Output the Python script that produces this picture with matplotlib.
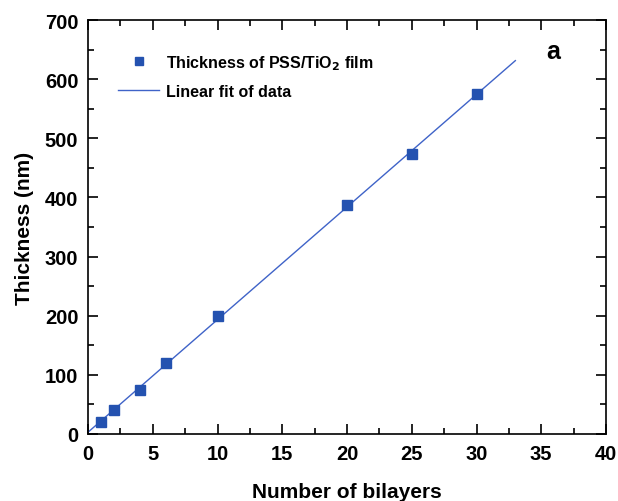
import numpy as np
import matplotlib
matplotlib.use("Agg")
import matplotlib.pyplot as plt
from matplotlib.ticker import MultipleLocator


# Data
bilayers = [1, 2, 4, 6, 10, 20, 25, 30]
thickness = [20, 40, 75, 120, 200, 387, 473, 575]

FIT_RANGE = (0, 33)
BLUE = "#2452b0"
LINE_BLUE = "#3f63c8"


def main():
    plt.rcParams["font.family"] = ["Liberation Sans", "DejaVu Sans"]
    plt.rcParams["font.weight"] = "bold"

    fig = plt.figure(figsize=(6.18, 5.02), dpi=100)
    ax = fig.add_axes([88 / 618, 1 - 435 / 502, (606 - 88) / 618, (435 - 21) / 502])

    # linear fit of the points
    slope, icpt = np.polyfit(bilayers, thickness, 1)
    xf = np.array(FIT_RANGE)
    ax.plot(xf, slope * xf + icpt, color=LINE_BLUE, lw=1.0,
            label="Linear fit of data")
    ax.plot(bilayers, thickness, "s", color=BLUE, ms=7, mec=BLUE,
            label="Thickness of PSS/TiO$_\\mathbf{2}$ film")

    ax.set_xlim(0, 40)
    ax.set_ylim(0, 700)
    ax.xaxis.set_major_locator(MultipleLocator(5))
    ax.xaxis.set_minor_locator(MultipleLocator(2.5))
    ax.yaxis.set_major_locator(MultipleLocator(100))
    ax.yaxis.set_minor_locator(MultipleLocator(50))
    ax.tick_params(which="both", direction="in", top=True, right=True,
                   width=1.2, labelsize=14.5)
    ax.tick_params(which="major", length=7, pad=7)
    ax.tick_params(which="minor", length=4)
    for lab in ax.get_xticklabels() + ax.get_yticklabels():
        lab.set_fontweight("bold")
    for sp in ax.spines.values():
        sp.set_linewidth(1.2)

    ax.set_xlabel("Number of bilayers", fontsize=15, fontweight="bold", labelpad=14)
    ax.set_ylabel("Thickness (nm)", fontsize=15, fontweight="bold", labelpad=8)

    handles, labels = ax.get_legend_handles_labels()
    ax.legend(handles[::-1], labels[::-1], loc="upper left",
              bbox_to_anchor=(0.03, 0.955), frameon=False,
              prop={"weight": "bold", "size": 11.5}, handlelength=2.6,
              handletextpad=0.4, labelspacing=0.75, markerscale=0.85)

    ax.text(0.885, 0.925, "a", transform=ax.transAxes, fontsize=18,
            fontweight="bold", ha="left", va="center")

    fig.savefig("out.png", dpi=100)


if __name__ == "__main__":
    main()
